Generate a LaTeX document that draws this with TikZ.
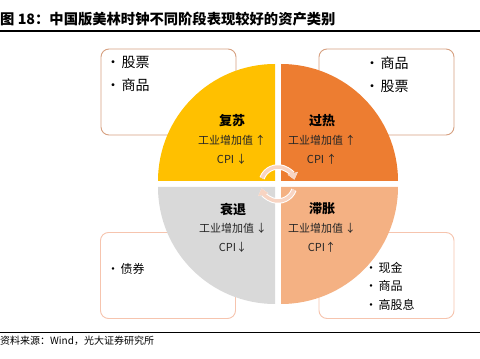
\documentclass[tikz,border=0pt]{standalone}
\usepackage{fontspec}
\setmainfont{Noto Sans CJK SC}
\usepackage{xcolor}
\definecolor{clkyellow}{RGB}{255,192,0}
\definecolor{clkorange}{RGB}{237,125,49}
\definecolor{clkgrey}{RGB}{217,217,217}
\definecolor{clkpeach}{RGB}{244,177,131}
\definecolor{boxtan}{RGB}{214,160,128}
\definecolor{boxpink}{RGB}{246,196,174}
\definecolor{cyclepink}{RGB}{248,212,194}
\usetikzlibrary{arrows.meta,positioning}
\newcommand{\itm}{•\hspace{1.5pt}}
\tikzset{
  mc_box/.style={rectangle,rounded corners=8pt,
    draw=#1,fill=white,line width=0.9pt,
    minimum width=135pt,minimum height=86pt},
  mc_list/.style={anchor=north west,align=left,inner sep=0pt},
  mc_phase/.style={font=\fontsize{13}{15}\selectfont\bfseries,
    inner sep=0pt},
  mc_ind/.style={font=\fontsize{11}{13}\selectfont,
    text=black!85,inner sep=0pt},
  cyc/.style={-{Triangle[width=10pt,length=6.5pt]},line width=3.5pt,
    draw=cyclepink},
}

\begin{document}
\begin{tikzpicture}[x=1pt,y=1pt,node distance=8pt]
  \useasboundingbox (0,0) rectangle (480,359);

  % title and rules
  \node (ttl) [anchor=west,inner sep=0pt,
               font=\fontsize{14.3}{16}\selectfont\bfseries] at (0,340)
    {图 18：中国版美林时钟不同阶段表现较好的资产类别};
  \draw[line width=1.2pt] (0,328) -- (480,328);
  \draw[line width=1pt] (0,26) -- (480,26);
  \node (src) [anchor=west,inner sep=0pt,
               font=\fontsize{10}{12}\selectfont] at (0,18)
    {资料来源：Wind，光大证券研究所};

  % asset boxes (behind the clock)
  \node (box_fs) [mc_box=boxtan]  at (168.5,267) {};
  \node (box_gr) [mc_box=boxtan]  at (386.5,267) {};
  \node (box_sh) [mc_box=boxpink] at (168,83.5) {};
  \node (box_zz) [mc_box=boxpink] at (386.5,83.5) {};

  \node (lst_fs) [mc_list,font=\fontsize{14}{23}\selectfont] at (106,303)
    {\itm 股票\\\itm 商品};
  \node (lst_gr) [mc_list,font=\fontsize{14}{23}\selectfont] at (365,303)
    {\itm 商品\\\itm 股票};
  \node (lst_sh) [mc_list,font=\fontsize{12}{18.5}\selectfont] at (107,96)
    {\itm 债券};
  \node (lst_zz) [mc_list,font=\fontsize{12}{18.5}\selectfont] at (365,97)
    {\itm 现金\\\itm 商品\\\itm 高股息};

  % the four quadrants
  \fill[clkyellow] (275,178) -- ++(-117,0) arc (180:90:117) -- cycle;
  \fill[clkorange] (281,178) -- ++(0,117) arc (90:0:117) -- cycle;
  \fill[clkgrey]   (275,172) -- ++(-117,0) arc (180:270:117) -- cycle;
  \fill[clkpeach]  (281,172) -- ++(117,0) arc (0:-90:117) -- cycle;

  % phase labels
  \node (fs)  [mc_phase] at (232,238) {复苏};
  \node (fs1) [mc_ind, below=of fs]  {工业增加值\,↑};
  \node (fs2) [mc_ind, below=of fs1] {CPI\,↓};

  \node (gr)  [mc_phase] at (322,238) {过热};
  \node (gr1) [mc_ind, below=of gr]  {工业增加值\,↑};
  \node (gr2) [mc_ind, below=of gr1] {CPI\,↑};

  \node (sh)  [mc_phase] at (233,150) {衰退};
  \node (sh1) [mc_ind, below=of sh]  {工业增加值\,↓};
  \node (sh2) [mc_ind, below=of sh1] {CPI↓};

  \node (zz)  [mc_phase] at (322,150) {滞胀};
  \node (zz1) [mc_ind, below=of zz]  {工业增加值\,↓};
  \node (zz2) [mc_ind, below=of zz1] {CPI↑};

  % cycle arrows in the middle
  \coordinate (mid) at (278,175);
  \draw[cyc,draw=white,line width=5.5pt] ([shift={(160:17)}]mid) arc (160:15:17);
  \draw[cyc] ([shift={(160:17)}]mid) arc (160:15:17);
  \draw[cyc,draw=white,line width=5.5pt] ([shift={(-20:17)}]mid) arc (-20:-165:17);
  \draw[cyc] ([shift={(-20:17)}]mid) arc (-20:-165:17);
\end{tikzpicture}
\end{document}
